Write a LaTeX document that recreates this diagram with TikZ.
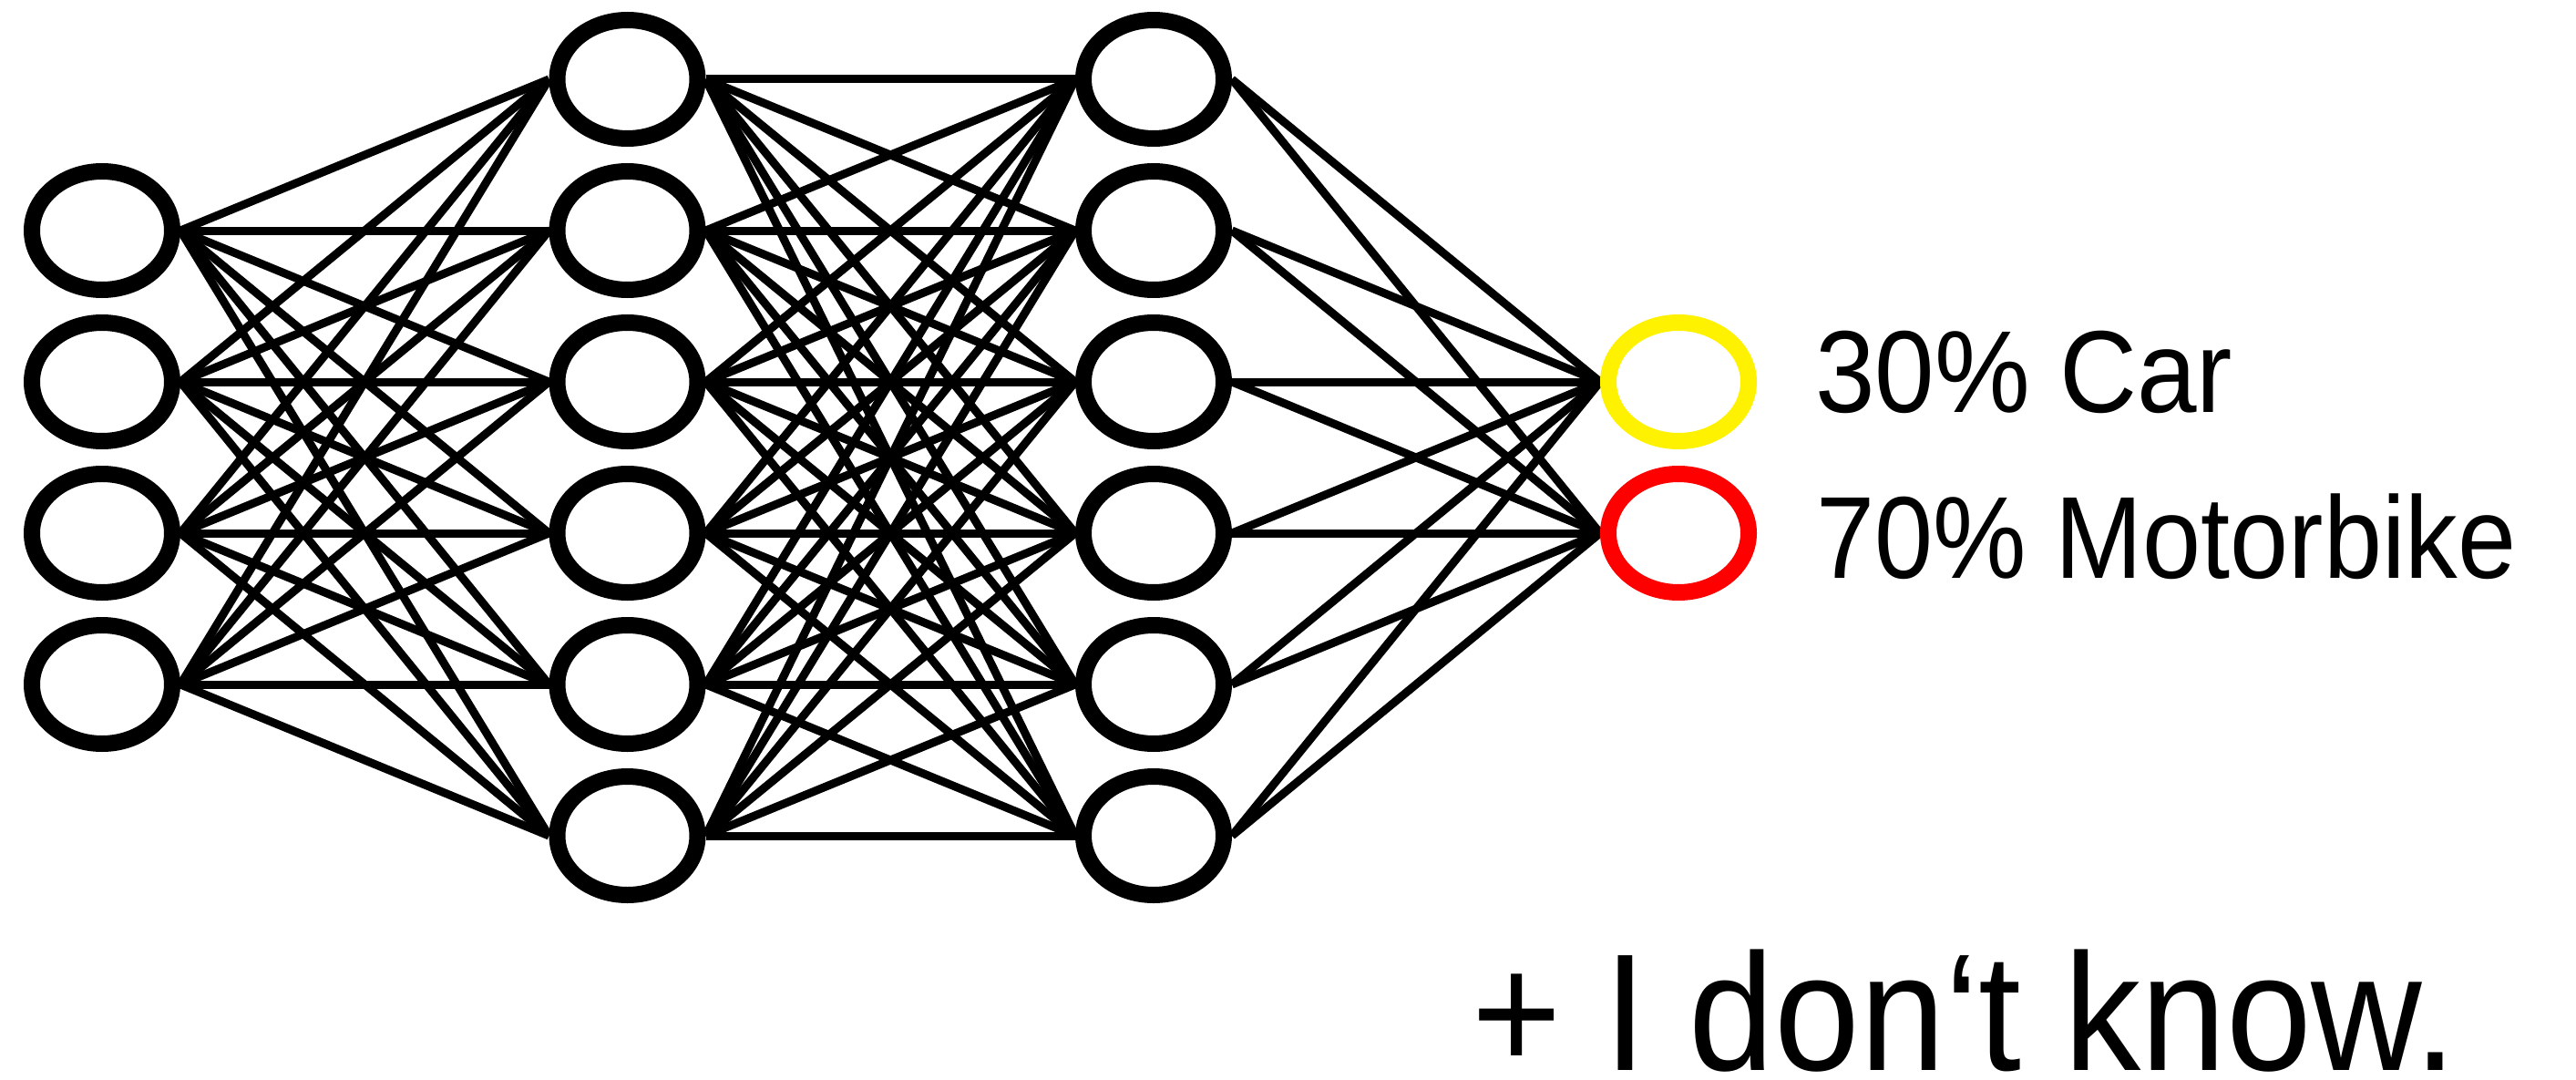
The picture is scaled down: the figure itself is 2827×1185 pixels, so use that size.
\documentclass[tikz,border=0pt]{standalone}
\usepackage{fontspec}
\setmainfont{Liberation Sans}
\usetikzlibrary{shapes.geometric,backgrounds}
\begin{document}
\begin{tikzpicture}[x=1pt,y=-1pt,
  neuron/.style={ellipse,draw=black,line width=18pt,fill=white,minimum width=154pt,minimum height=130pt,inner sep=0pt},
  link/.style={line width=9pt,draw=black},
  lbl/.style={anchor=base west,inner sep=0pt,font=\fontsize{128}{150}\selectfont},
  bigtxt/.style={anchor=base west,inner sep=0pt,font=\fontsize{183}{210}\selectfont}]
\useasboundingbox (0,0) rectangle (2827,1185);
% input layer
\foreach \i/\y in {1/253,2/419,3/585,4/751}
  \node[neuron] (i\i) at (112,\y) {};
% hidden layers
\foreach \i/\y in {1/87,2/253,3/419,4/585,5/751,6/917}{
  \node[neuron] (a\i) at (688.5,\y) {};
  \node[neuron] (b\i) at (1266,\y) {};
}
% output layer
\node[neuron,draw=yellow] (o1) at (1842,419) {};
\node[neuron,draw=red] (o2) at (1842,585) {};
% connectors
\begin{scope}[on background layer]
\foreach \p in {1,...,4}
  \foreach \q in {1,...,6}
    \draw[link] (i\p.east) -- (a\q.west);
\foreach \p in {1,...,6}
  \foreach \q in {1,...,6}
    \draw[link] (a\p.east) -- (b\q.west);
\foreach \p in {1,...,6}
  \foreach \q in {1,2}
    \draw[link] (b\p.east) -- (o\q.west);
\end{scope}
% labels
\node[lbl] (car) at (1992,452) {\scalebox{0.92}[1]{30\% Car}};
\node[lbl] (moto) at (1993,634) {\scalebox{0.90}[1]{70\% Motorbike}};
\node[bigtxt] (idk) at (1615,1174) {\scalebox{0.92}[1]{\smash{+ I don‘t know.}}};
\end{tikzpicture}
\end{document}
